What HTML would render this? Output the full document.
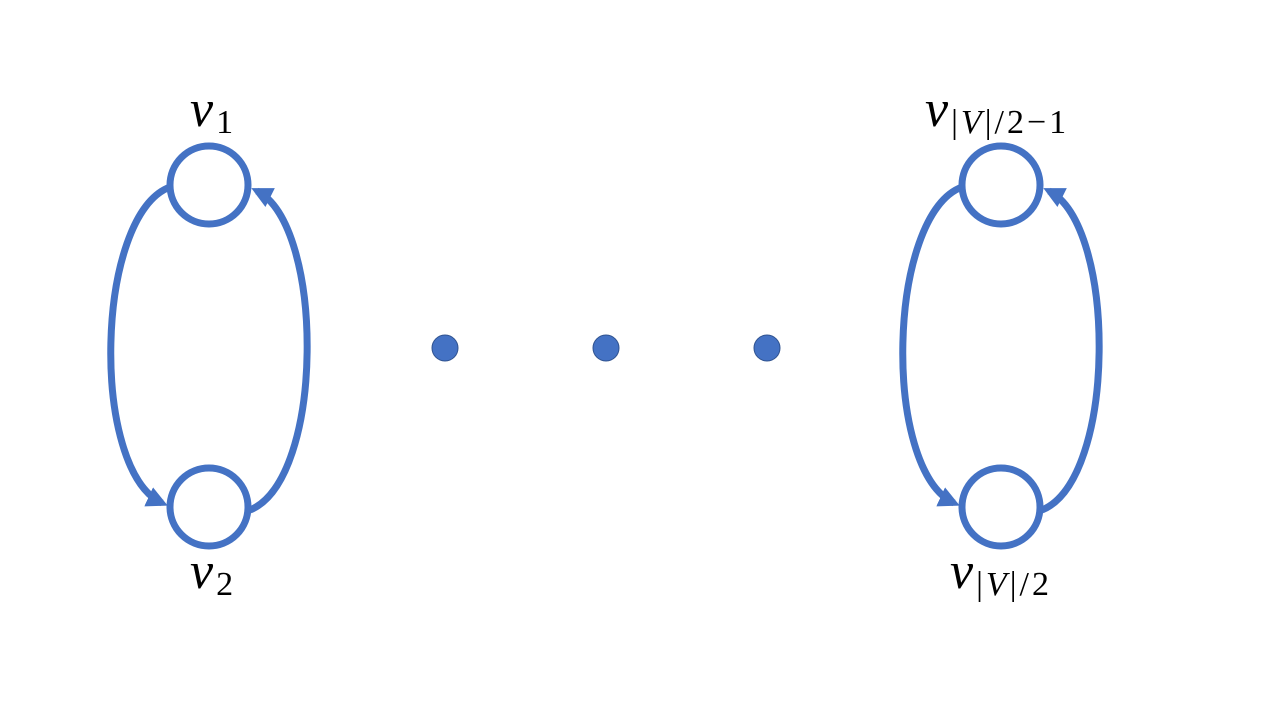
<!DOCTYPE html>
<html><head><meta charset="utf-8"><style>
html,body{margin:0;padding:0;background:#fff;width:1280px;height:720px;overflow:hidden}
text{font-family:"Liberation Serif","DejaVu Serif",serif;fill:#000}
.v{font-style:italic;font-size:52px}
.s{font-size:34px;letter-spacing:3px}
</style></head><body>
<svg width="1280" height="720" viewBox="0 0 1280 720">
<defs>
<marker id="ah" viewBox="0 0 10 10" refX="7" refY="5" markerWidth="3" markerHeight="3" orient="auto" markerUnits="strokeWidth">
<path d="M0,0 L10,5 L0,10 Z" fill="#4472C4"/>
</marker>
</defs>
<g fill="none" stroke="#4472C4" stroke-width="7">
<g>
<circle cx="209" cy="185" r="39"/>
<circle cx="209" cy="507" r="39"/>
<path d="M170,187 C95,215 90,470 162,503" marker-end="url(#ah)"/>
<path d="M250,510 C325,480 325,225 257,191" marker-end="url(#ah)"/>
</g>
<g>
<circle cx="1001" cy="185" r="39"/>
<circle cx="1001" cy="507" r="39"/>
<path d="M962,187 C887,215 882,470 954,503" marker-end="url(#ah)"/>
<path d="M1042,510 C1117,480 1117,225 1049,191" marker-end="url(#ah)"/>
</g>
</g>
<g fill="#4472C4" stroke="#2F528F" stroke-width="1">
<circle cx="445" cy="348" r="13"/>
<circle cx="606" cy="348" r="13"/>
<circle cx="767" cy="348" r="13"/>
</g>
<text x="190" y="126"><tspan class="v">v</tspan><tspan class="s" dx="3" dy="7">1</tspan></text>
<text x="190" y="588"><tspan class="v">v</tspan><tspan class="s" dx="3" dy="7">2</tspan></text>
<text x="925" y="126"><tspan class="v">v</tspan><tspan class="s" dx="3" dy="7">|<tspan font-style="italic">V</tspan>|/2−1</tspan></text>
<text x="950" y="588"><tspan class="v">v</tspan><tspan class="s" dx="3" dy="7">|<tspan font-style="italic">V</tspan>|/2</tspan></text>
</svg>
</body></html>
